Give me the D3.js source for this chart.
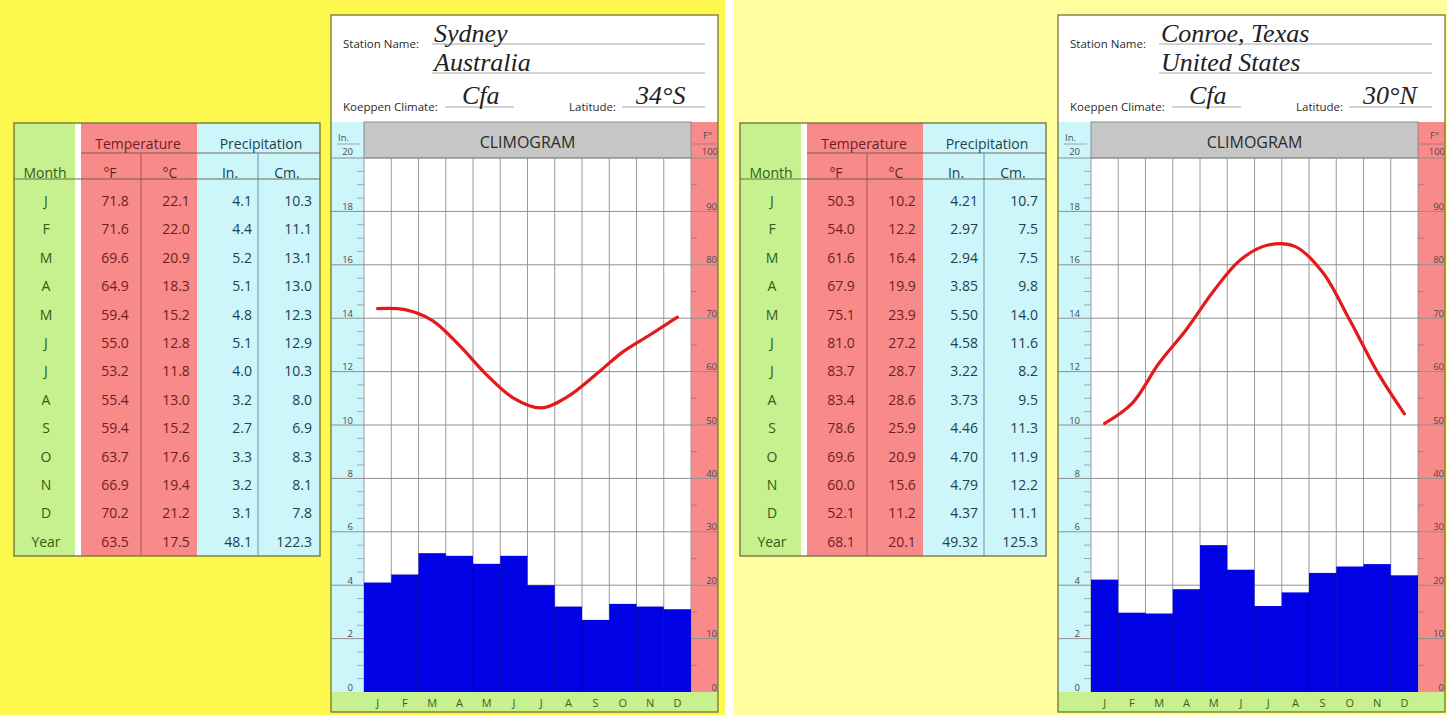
<!DOCTYPE html>
<html>
<head>
<meta charset="utf-8">
<script src="https://cdn.jsdelivr.net/npm/d3@7"></script>
<style>
  html, body { margin: 0; padding: 0; background: #ffffff; }
  svg { display: block; }
</style>
</head>
<body>
<svg id="chart" width="1447" height="715"></svg>
<script>
// ---- Climate data ----
const months = ["J", "F", "M", "A", "M", "J", "J", "A", "S", "O", "N", "D"];

const sydneyTempF   = [71.8, 71.6, 69.6, 64.9, 59.4, 55.0, 53.2, 55.4, 59.4, 63.7, 66.9, 70.2];
const sydneyTempC   = [22.1, 22.0, 20.9, 18.3, 15.2, 12.8, 11.8, 13.0, 15.2, 17.6, 19.4, 21.2];
const sydneyPrecIn  = [4.1, 4.4, 5.2, 5.1, 4.8, 5.1, 4.0, 3.2, 2.7, 3.3, 3.2, 3.1];
const sydneyPrecCm  = [10.3, 11.1, 13.1, 13.0, 12.3, 12.9, 10.3, 8.0, 6.9, 8.3, 8.1, 7.8];
const sydneyYear    = [63.5, 17.5, 48.1, 122.3];

const conroeTempF   = [50.3, 54.0, 61.6, 67.9, 75.1, 81.0, 83.7, 83.4, 78.6, 69.6, 60.0, 52.1];
const conroeTempC   = [10.2, 12.2, 16.4, 19.9, 23.9, 27.2, 28.7, 28.6, 25.9, 20.9, 15.6, 11.2];
const conroePrecIn  = [4.21, 2.97, 2.94, 3.85, 5.50, 4.58, 3.22, 3.73, 4.46, 4.70, 4.79, 4.37];
const conroePrecCm  = [10.7, 7.5, 7.5, 9.8, 14.0, 11.6, 8.2, 9.5, 11.3, 11.9, 12.2, 11.1];
const conroeYear    = [68.1, 20.1, 49.32, 125.3];

const inchTicks = [0, 2, 4, 6, 8, 10, 12, 14, 16, 18];
const fahrenheitTicks = [0, 10, 20, 30, 40, 50, 60, 70, 80, 90];

const stations = [
  { line1: "Sydney", line2: "Australia", koeppen: "Cfa", latitude: "34°S",
    tempF: sydneyTempF, tempC: sydneyTempC, precIn: sydneyPrecIn, precCm: sydneyPrecCm,
    year: sydneyYear, inDigits: 1, dx: 0, bg: "#fdf84e" },
  { line1: "Conroe, Texas", line2: "United States", koeppen: "Cfa", latitude: "30°N",
    tempF: conroeTempF, tempC: conroeTempC, precIn: conroePrecIn, precCm: conroePrecCm,
    year: conroeYear, inDigits: 2, dx: 727, bg: "#fffd9e" }
];

// ---- Drawing ----
const svg = d3.select("#chart");
const SANS = "'Open Sans', 'Noto Sans', sans-serif";
const SERIF = "'Liberation Serif', 'DejaVu Serif', serif";

// panel backgrounds
svg.append("rect").attr("x", 0).attr("y", 0).attr("width", 725).attr("height", 715).attr("fill", stations[0].bg);
svg.append("rect").attr("x", 725).attr("y", 0).attr("width", 8).attr("height", 715).attr("fill", "#ffffff");
svg.append("rect").attr("x", 733).attr("y", 0).attr("width", 714).attr("height", 715).attr("fill", stations[1].bg);

const C = {
  green: "#c7f08e", red: "#f88a8a", cyan: "#cdf6fa", gray: "#c6c6c6",
  greenText: "#335c17", redText: "#6e1f1f", cyanText: "#213f4e",
  grid: "#8f8f8f", bar: "#0202e6", curve: "#e3191b"
};

function drawTable(g, s) {
  const W = 306, top = 123, bottom = 556;
  const t = g.append("g").attr("transform", "translate(14,0)");
  t.append("rect").attr("x", 0).attr("y", top).attr("width", 61).attr("height", bottom - top).attr("fill", C.green);
  t.append("rect").attr("x", 61).attr("y", top).attr("width", 6).attr("height", bottom - top).attr("fill", "#ffffff");
  t.append("rect").attr("x", 67).attr("y", top).attr("width", 116).attr("height", bottom - top).attr("fill", C.red);
  t.append("rect").attr("x", 183).attr("y", top).attr("width", W - 183).attr("height", bottom - top).attr("fill", C.cyan);

  // rules
  t.append("line").attr("x1", 67).attr("x2", W).attr("y1", 153).attr("y2", 153).attr("stroke", "#6d5a4a").attr("stroke-width", 0.9);
  t.append("line").attr("x1", 0).attr("x2", W).attr("y1", 179).attr("y2", 179).attr("stroke", "#5d5d45").attr("stroke-width", 0.9);
  t.append("line").attr("x1", 127).attr("x2", 127).attr("y1", 153).attr("y2", bottom).attr("stroke", "#8a4a4a").attr("stroke-width", 0.8);
  t.append("line").attr("x1", 244).attr("x2", 244).attr("y1", 153).attr("y2", bottom).attr("stroke", "#4f7a86").attr("stroke-width", 0.8);
  t.append("rect").attr("x", 0).attr("y", top).attr("width", W).attr("height", bottom - top)
    .attr("fill", "none").attr("stroke", "#6f6f3c").attr("stroke-width", 1.3);

  const txt = (x, y, str, color, anchor) => t.append("text")
    .attr("x", x).attr("y", y).attr("dy", "0.35em").attr("text-anchor", anchor || "middle")
    .attr("font-family", SANS).attr("font-size", 14).attr("fill", color).text(str);

  txt(124, 144, "Temperature", C.redText);
  txt(247, 144, "Precipitation", C.cyanText);
  txt(31, 173, "Month", C.greenText);
  txt(96, 173, "°F", C.redText);
  txt(156, 173, "°C", C.redText);
  txt(216, 173, "In.", C.cyanText);
  txt(273, 173, "Cm.", C.cyanText);

  const rowY = d3.scaleLinear().domain([0, 12]).range([201, 542]);
  const f1 = d3.format(".1f");
  const fIn = d3.format("." + s.inDigits + "f");
  months.forEach((m, i) => {
    const y = rowY(i);
    txt(32, y, m, C.greenText);
    txt(101, y, f1(s.tempF[i]), C.redText);
    txt(162, y, f1(s.tempC[i]), C.redText);
    txt(238, y, fIn(s.precIn[i]), C.cyanText, "end");
    txt(298, y, f1(s.precCm[i]), C.cyanText, "end");
  });
  const y = rowY(12);
  txt(32, y, "Year", C.greenText);
  txt(101, y, f1(s.year[0]), C.redText);
  txt(162, y, f1(s.year[1]), C.redText);
  txt(238, y, fIn(s.year[2]), C.cyanText, "end");
  txt(298, y, f1(s.year[3]), C.cyanText, "end");
}

function drawChart(g, s) {
  const L = 331, R = 718, T = 15, B = 712;
  const pL = 364, pR = 691, pT = 158, p0 = 692;

  const x = d3.scaleBand().domain(d3.range(12)).range([pL, pR]).padding(0);
  const yIn = d3.scaleLinear().domain([0, 20]).range([p0, pT]);
  const yF = d3.scaleLinear().domain([0, 100]).range([p0, pT]);

  g.append("rect").attr("x", L).attr("y", T).attr("width", R - L).attr("height", B - T)
    .attr("fill", "#ffffff");

  // station header
  const small = (xx, yy, str) => g.append("text").attr("x", xx).attr("y", yy)
    .attr("font-family", SANS).attr("font-size", 11.5).attr("fill", "#2a2a2a").text(str);
  const hand = (xx, yy, str) => g.append("text").attr("x", xx).attr("y", yy)
    .attr("font-family", SERIF).attr("font-style", "italic").attr("font-size", 26)
    .attr("fill", "#222").text(str);
  const rule = (x1, x2, yy) => g.append("line").attr("x1", x1).attr("x2", x2).attr("y1", yy).attr("y2", yy)
    .attr("stroke", "#a8a8a8").attr("stroke-width", 1);

  rule(432, 705, 44); rule(432, 705, 73);
  rule(445, 514, 107); rule(622, 705, 107);
  small(343, 48, "Station Name:");
  small(343, 111, "Koeppen Climate:");
  small(569, 111, "Latitude:");
  hand(434, 42, s.line1);
  hand(434, 71, s.line2);
  hand(462, 104, s.koeppen);
  hand(636, 104, s.latitude);

  // side strips and header band
  g.append("rect").attr("x", L).attr("y", 122).attr("width", pL - L).attr("height", p0 - 122).attr("fill", C.cyan);
  g.append("rect").attr("x", pR).attr("y", 122).attr("width", R - pR).attr("height", p0 - 122).attr("fill", C.red);
  g.append("rect").attr("x", pL).attr("y", 122).attr("width", pR - pL).attr("height", pT - 122)
    .attr("fill", C.gray).attr("stroke", "#8a8a8a").attr("stroke-width", 1);
  g.append("text").attr("x", (pL + pR) / 2).attr("y", 142).attr("dy", "0.35em").attr("text-anchor", "middle")
    .attr("font-family", SANS).attr("font-size", 16).attr("fill", "#2a2a2a").text("CLIMOGRAM");
  g.append("rect").attr("x", L).attr("y", p0).attr("width", R - L).attr("height", B - p0).attr("fill", C.green);

  // axis unit labels in header band
  const tiny = (xx, yy, str, anchor) => g.append("text").attr("x", xx).attr("y", yy).attr("text-anchor", anchor || "start")
    .attr("font-family", SANS).attr("font-size", 9.5).attr("fill", "#4a4a4a").text(str);
  tiny(338, 141, "In.");
  g.append("line").attr("x1", 337).attr("x2", 360).attr("y1", 144).attr("y2", 144).attr("stroke", "#888").attr("stroke-width", 0.7);
  tiny(353, 155, yIn.domain()[1], "end");
  tiny(703, 139, "F°");
  g.append("line").attr("x1", 693).attr("x2", 716).attr("y1", 144).attr("y2", 144).attr("stroke", "#a66").attr("stroke-width", 0.7);
  tiny(718, 155, yF.domain()[1], "end");

  // vertical month grid
  const grid = g.append("g");
  d3.range(13).forEach(i => {
    const xx = i < 12 ? x(i) : pR;
    grid.append("line").attr("x1", xx).attr("x2", xx).attr("y1", pT).attr("y2", p0)
      .attr("stroke", "#9a9a9a").attr("stroke-width", 1);
  });

  // horizontal rules across the strips
  inchTicks.slice(1).concat([yIn.domain()[1]]).forEach(v => {
    g.append("line").attr("x1", L).attr("x2", R).attr("y1", yIn(v)).attr("y2", yIn(v))
      .attr("stroke", C.grid).attr("stroke-width", 1);
  });

  // precipitation bars above the grid
  g.append("g").selectAll("rect").data(s.precIn).join("rect")
    .attr("x", (d, i) => x(i)).attr("width", x.bandwidth())
    .attr("y", d => yIn(d)).attr("height", d => yIn(0) - yIn(d))
    .attr("fill", C.bar);
  d3.range(1, 12).forEach(i => {
    g.append("line").attr("x1", x(i)).attr("x2", x(i)).attr("y1", yIn(Math.min(s.precIn[i - 1], s.precIn[i]))).attr("y2", p0)
      .attr("stroke", "#0000a8").attr("stroke-width", 0.8);
  });

  // left inch axis: minor ticks every half inch, labels every 2
  d3.range(0.5, 20, 0.5).forEach(v => {
    if (v % 2 !== 0) {
      g.append("line").attr("x1", 357).attr("x2", pL).attr("y1", yIn(v)).attr("y2", yIn(v))
        .attr("stroke", "#8a9aa0").attr("stroke-width", 0.8);
    }
  });
  inchTicks.forEach(v => tiny(353, yIn(v) - 1.5, v, "end"));

  // right Fahrenheit axis: minor ticks every 5, labels every 10
  d3.range(5, 100, 10).forEach(v => {
    g.append("line").attr("x1", pR).attr("x2", pR + 6).attr("y1", yF(v)).attr("y2", yF(v))
      .attr("stroke", "#b06a6a").attr("stroke-width", 0.8);
  });
  fahrenheitTicks.forEach(v => tiny(717, yF(v) - 1.5, v, "end"));

  // temperature curve
  const line = d3.line()
    .x((d, i) => x(i) + x.bandwidth() / 2)
    .y(d => yF(d))
    .curve(d3.curveCatmullRom.alpha(0.5));
  g.append("path").attr("d", line(s.tempF)).attr("fill", "none")
    .attr("stroke", C.curve).attr("stroke-width", 3.2).attr("stroke-linecap", "round");

  // month letters
  months.forEach((m, i) => {
    g.append("text").attr("x", x(i) + x.bandwidth() / 2).attr("y", 703).attr("dy", "0.35em")
      .attr("text-anchor", "middle").attr("font-family", SANS).attr("font-size", 11)
      .attr("fill", "#3f6024").text(m);
  });

  g.append("rect").attr("x", L).attr("y", T).attr("width", R - L).attr("height", B - T)
    .attr("fill", "none").attr("stroke", "#74743a").attr("stroke-width", 1.3);
}

stations.forEach(s => {
  const gT = svg.append("g").attr("transform", `translate(${s.dx === 0 ? 0 : 726},0)`);
  drawTable(gT, s);
  const gC = svg.append("g").attr("transform", `translate(${s.dx},0)`);
  drawChart(gC, s);
});
</script>
</body>
</html>
